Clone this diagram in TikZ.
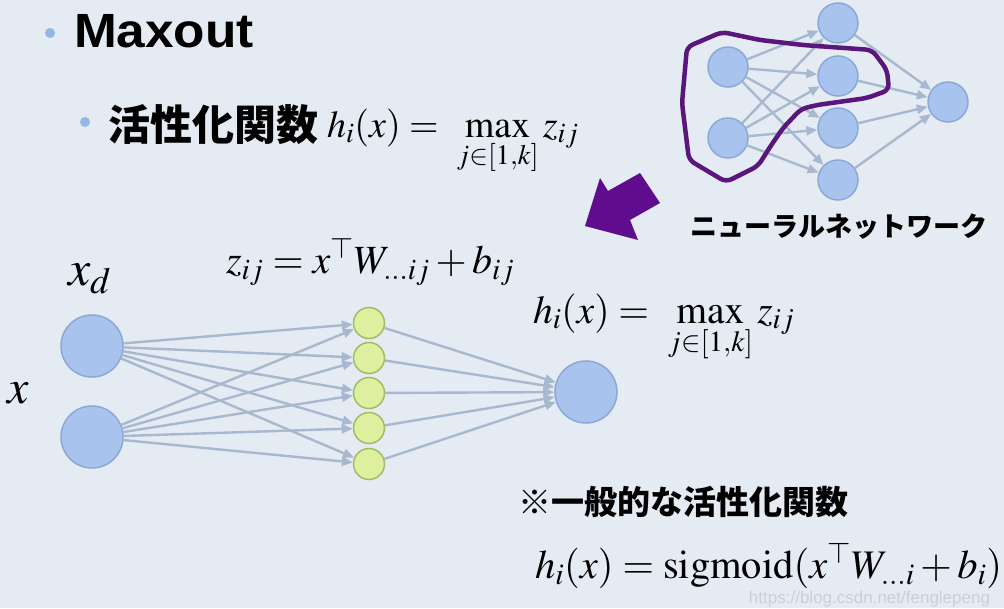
\documentclass[tikz,border=0pt]{standalone}
\usepackage{mathptmx}
\usepackage{fontspec}
\setmainfont{Liberation Serif}
\newfontfamily\helv{Liberation Sans}
\newfontfamily\jp{Noto Sans CJK JP}
\usetikzlibrary{arrows.meta}
\definecolor{bg}{RGB}{228,235,243}
\definecolor{inpfill}{RGB}{168,196,238}
\definecolor{inpborder}{RGB}{140,168,212}
\definecolor{hidfill}{RGB}{222,240,160}
\definecolor{hidborder}{RGB}{160,188,100}
\definecolor{edgecol}{RGB}{168,184,206}
\definecolor{loopcol}{RGB}{90,22,122}
\definecolor{arrcol}{RGB}{95,12,142}
\definecolor{bulletcol}{RGB}{150,182,228}
\definecolor{wmcol}{RGB}{200,208,220}
\tikzset{
  inp/.style={circle, draw=inpborder, fill=inpfill, line width=1.5pt, minimum size=#1, inner sep=0pt},
  hid/.style={circle, draw=hidborder, fill=hidfill, line width=1.5pt, minimum size=#1, inner sep=0pt},
  edge/.style={draw=edgecol, line width=2.4pt, -{Triangle[length=11pt,width=9pt]}},
  txt/.style={inner sep=0pt, outer sep=0pt},
  bullet/.style={circle, fill=bulletcol, minimum size=10pt, inner sep=0pt},
}
\begin{document}
\begin{tikzpicture}[x=1pt,y=-1pt]
\fill[bg] (0,0) rectangle (1004,608);
\useasboundingbox (0,0) rectangle (1004,608);

% title
\node[bullet] (bu1) at (50,33) {};
\node[txt, anchor=base west, xscale=1.07] (title) at (74,47) {\helv\bfseries\fontsize{48}{56}\selectfont Maxout};
\node[bullet] (bu2) at (85,122) {};
\node[txt, anchor=west] (act) at (108,125) {\jp\bfseries\fontsize{42}{48}\selectfont 活性化関数};
\node[txt, anchor=base west] (f1) at (327,137) {\fontsize{38}{44}\selectfont $\displaystyle h_i(x) =\ \max_{j\in[1,k]} z_{ij}$};

% top-right network
\node[inp=40] (a1) at (728,67) {};
\node[inp=40] (a2) at (728,138) {};
\node[inp=40] (b1) at (838,23) {};
\node[inp=40] (b2) at (838,76) {};
\node[inp=40] (b3) at (838,128) {};
\node[inp=40] (b4) at (838,180) {};
\node[inp=40] (c1) at (948,102) {};
\foreach \i in {a1,a2}{\foreach \j in {b1,b2,b3,b4}{\draw[edge] (\i) -- (\j);}}
\foreach \j in {b1,b2,b3,b4}{\draw[edge] (\j) -- (c1);}
\draw[loopcol, line width=4.5pt, line join=round, rounded corners=6pt]
  (687,47) -- (722,32) -- (760,40) -- (803,45) -- (872,50) -- (887,70) -- (889,90)
  -- (867,98) -- (817,105) -- (801,109) -- (783,128) -- (770,147) -- (758,166)
  -- (726,182) -- (689,160) -- (682,103) -- cycle;
\node[txt, anchor=west] (nn) at (690,227) {\jp\bfseries\fontsize{27}{32}\selectfont ニューラルネットワーク};

% purple block arrow
\fill[arrcol] (585,226) -- (600,178) -- (608,191) -- (640,173) -- (660,203) -- (630,220) -- (638,240) -- cycle;

% main network
\node[inp=62] (x1) at (92,346) {};
\node[inp=62] (x2) at (92,437) {};
\node[hid=31] (h1) at (369,323) {};
\node[hid=31] (h2) at (369,358) {};
\node[hid=31] (h3) at (369,393) {};
\node[hid=31] (h4) at (369,428) {};
\node[hid=31] (h5) at (369,464) {};
\node[inp=62] (o1) at (586,392) {};
\foreach \i in {x1,x2}{\foreach \j in {h1,h2,h3,h4,h5}{\draw[edge] (\i) -- (\j);}}
\foreach \j in {h1,h2,h3,h4,h5}{\draw[edge] (\j) -- (o1);}

\node[txt, anchor=base west] (xd) at (68,285) {\fontsize{50}{56}\selectfont $x_d$};
\node[txt, anchor=base west] (xl) at (8,403) {\fontsize{48}{54}\selectfont $x$};
\node[txt, anchor=base west] (zf) at (226,273) {\fontsize{40}{46}\selectfont $z_{ij} = x^{\top} W_{\ldots ij} + b_{ij}$};
\node[txt, anchor=base west] (f2) at (533,323) {\fontsize{39.5}{46}\selectfont $\displaystyle h_i(x) =\ \max_{j\in[1,k]} z_{ij}$};

% general activation
\node[txt, anchor=west] (gen) at (518,502) {\jp\bfseries\fontsize{33}{38}\selectfont ※一般的な活性化関数};
\node[txt, anchor=base west] (sig) at (535,578) {\fontsize{40.5}{46}\selectfont $h_i(x) = \mathrm{sigmoid}(x^{\top} W_{\ldots i} + b_i)$};
\node[txt, anchor=base east] (wm) at (990,603) {\helv\fontsize{17}{20}\selectfont\color{wmcol} https://blog.csdn.net/fenglepeng};
\end{tikzpicture}
\end{document}
